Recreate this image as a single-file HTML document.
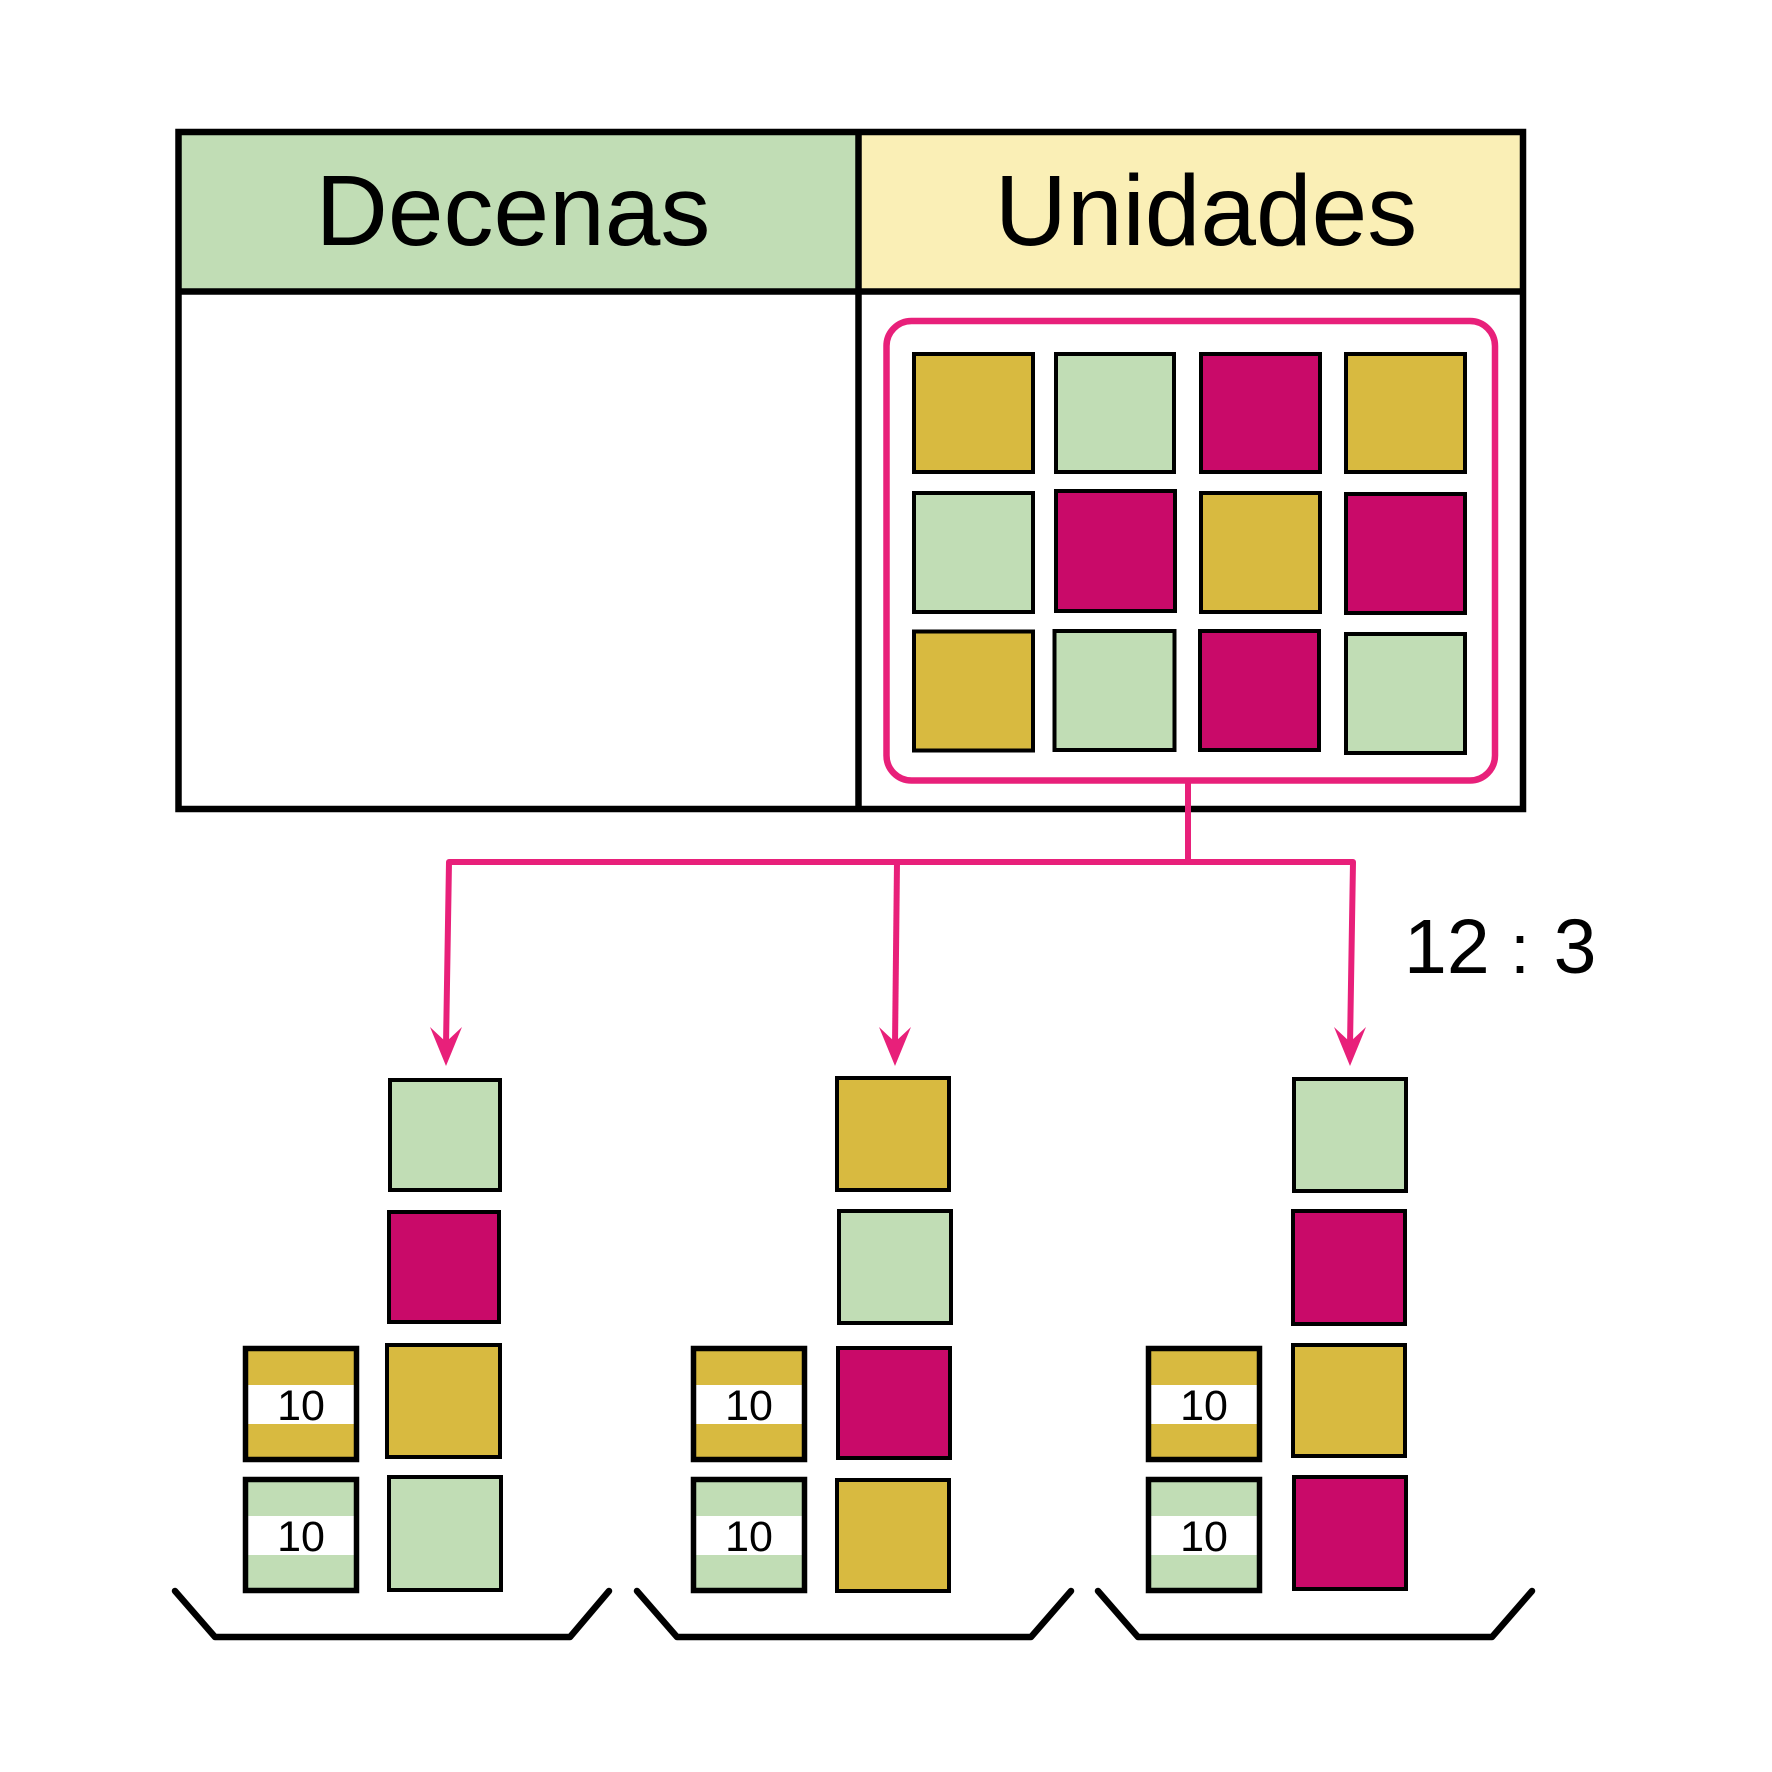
<!DOCTYPE html>
<html>
<head>
<meta charset="utf-8">
<style>
html,body{margin:0;padding:0;background:#fff;}
svg{display:block;}
text{font-family:"Liberation Sans","DejaVu Sans",sans-serif;}
</style>
</head>
<body>
<svg width="1772" height="1772" viewBox="0 0 1772 1772" xmlns="http://www.w3.org/2000/svg">
<rect x="0" y="0" width="1772" height="1772" fill="#fff"/>

<!-- Table -->
<rect x="178.5" y="132" width="679.5" height="159.5" fill="#C1DDB5"/>
<rect x="858" y="132" width="665" height="159.5" fill="#FAEFB6"/>
<rect x="178.5" y="132" width="1344.5" height="677" fill="none" stroke="#000" stroke-width="6.5"/>
<line x1="178.5" y1="291.5" x2="1523" y2="291.5" stroke="#000" stroke-width="6.5"/>
<line x1="858.5" y1="132" x2="858.5" y2="809" stroke="#000" stroke-width="6.5"/>
<text x="513" y="245" font-size="100" text-anchor="middle" fill="#000">Decenas</text>
<text x="1206" y="245" font-size="100" text-anchor="middle" fill="#000">Unidades</text>

<!-- Pink group rect -->
<rect x="886.5" y="321" width="608.5" height="459.5" rx="25" ry="25" fill="none" stroke="#E8207A" stroke-width="6.5"/>

<!-- Grid squares -->
<g stroke="#000" stroke-width="4">
<rect x="914" y="354" width="119" height="118" fill="#D8BA40"/>
<rect x="1056" y="354" width="118" height="118" fill="#C1DDB5"/>
<rect x="1201" y="354" width="119" height="118" fill="#C90A69"/>
<rect x="1346" y="354" width="119" height="118" fill="#D8BA40"/>

<rect x="914" y="493" width="119" height="119" fill="#C1DDB5"/>
<rect x="1056" y="491" width="119" height="120" fill="#C90A69"/>
<rect x="1201" y="493" width="119" height="119" fill="#D8BA40"/>
<rect x="1346" y="494" width="119" height="119" fill="#C90A69"/>

<rect x="914" y="631.5" width="119" height="119" fill="#D8BA40"/>
<rect x="1054.5" y="631" width="120" height="119" fill="#C1DDB5"/>
<rect x="1200" y="631" width="119" height="119" fill="#C90A69"/>
<rect x="1346" y="634" width="119" height="119" fill="#C1DDB5"/>
</g>

<!-- Connectors -->
<g stroke="#E8207A" stroke-width="6" fill="none" stroke-linejoin="round">
<line x1="1188" y1="780" x2="1188" y2="862"/>
<polyline points="446,1045 449,862 1353,862 1350,1045"/>
<polyline points="895,1045 897,862"/>
</g>
<g fill="#E8207A">
<polygon points="446,1066 430,1027 446,1042 462,1027"/>
<polygon points="895,1066 879,1027 895,1042 911,1027"/>
<polygon points="1350,1066 1334,1027 1350,1042 1366,1027"/>
</g>

<!-- 12 : 3 -->
<text x="1404" y="973" font-size="77" fill="#000">12</text>
<text x="1520" y="973" font-size="70" text-anchor="middle" fill="#000">:</text>
<text x="1575" y="973" font-size="77" text-anchor="middle" fill="#000">3</text>

<!-- Unit squares stacks -->
<g stroke="#000" stroke-width="4">
<!-- stack 1 -->
<rect x="390" y="1080" width="110" height="110" fill="#C1DDB5"/>
<rect x="389" y="1212" width="110" height="110" fill="#C90A69"/>
<rect x="387" y="1345" width="113" height="112" fill="#D8BA40"/>
<rect x="389" y="1477" width="112" height="113" fill="#C1DDB5"/>
<!-- stack 2 -->
<rect x="837" y="1078" width="112" height="112" fill="#D8BA40"/>
<rect x="839" y="1211" width="112" height="112" fill="#C1DDB5"/>
<rect x="838" y="1348" width="112" height="110" fill="#C90A69"/>
<rect x="837" y="1480" width="112" height="111" fill="#D8BA40"/>
<!-- stack 3 -->
<rect x="1294" y="1079" width="112" height="112" fill="#C1DDB5"/>
<rect x="1293" y="1211" width="112" height="113" fill="#C90A69"/>
<rect x="1293" y="1345" width="112" height="111" fill="#D8BA40"/>
<rect x="1294" y="1477" width="112" height="112" fill="#C90A69"/>
</g>

<!-- Tens -->
<g>
<!-- stack 1 -->
<rect x="245.5" y="1348.5" width="111" height="111" fill="#D8BA40"/>
<rect x="245.5" y="1385" width="111" height="39" fill="#fff"/>
<rect x="245.5" y="1348.5" width="111" height="111" fill="none" stroke="#000" stroke-width="5.5"/>
<text x="301" y="1420" font-size="43" text-anchor="middle" fill="#000">10</text>
<rect x="245.5" y="1479.5" width="111" height="111" fill="#C1DDB5"/>
<rect x="245.5" y="1516" width="111" height="39" fill="#fff"/>
<rect x="245.5" y="1479.5" width="111" height="111" fill="none" stroke="#000" stroke-width="5.5"/>
<text x="301" y="1551" font-size="43" text-anchor="middle" fill="#000">10</text>
<!-- stack 2 -->
<rect x="693.5" y="1348.5" width="111" height="111" fill="#D8BA40"/>
<rect x="693.5" y="1385" width="111" height="39" fill="#fff"/>
<rect x="693.5" y="1348.5" width="111" height="111" fill="none" stroke="#000" stroke-width="5.5"/>
<text x="749" y="1420" font-size="43" text-anchor="middle" fill="#000">10</text>
<rect x="693.5" y="1479.5" width="111" height="111" fill="#C1DDB5"/>
<rect x="693.5" y="1516" width="111" height="39" fill="#fff"/>
<rect x="693.5" y="1479.5" width="111" height="111" fill="none" stroke="#000" stroke-width="5.5"/>
<text x="749" y="1551" font-size="43" text-anchor="middle" fill="#000">10</text>
<!-- stack 3 -->
<rect x="1148.5" y="1348.5" width="111" height="111" fill="#D8BA40"/>
<rect x="1148.5" y="1385" width="111" height="39" fill="#fff"/>
<rect x="1148.5" y="1348.5" width="111" height="111" fill="none" stroke="#000" stroke-width="5.5"/>
<text x="1204" y="1420" font-size="43" text-anchor="middle" fill="#000">10</text>
<rect x="1148.5" y="1479.5" width="111" height="111" fill="#C1DDB5"/>
<rect x="1148.5" y="1516" width="111" height="39" fill="#fff"/>
<rect x="1148.5" y="1479.5" width="111" height="111" fill="none" stroke="#000" stroke-width="5.5"/>
<text x="1204" y="1551" font-size="43" text-anchor="middle" fill="#000">10</text>
</g>

<!-- Brackets -->
<g stroke="#000" stroke-width="6.5" fill="none" stroke-linecap="round" stroke-linejoin="round">
<polyline points="175,1591 215,1637 570,1637 609,1591"/>
<polyline points="637,1591 677,1637 1031,1637 1071,1591"/>
<polyline points="1098,1591 1138,1637 1492,1637 1532,1591"/>
</g>
</svg>
</body>
</html>
